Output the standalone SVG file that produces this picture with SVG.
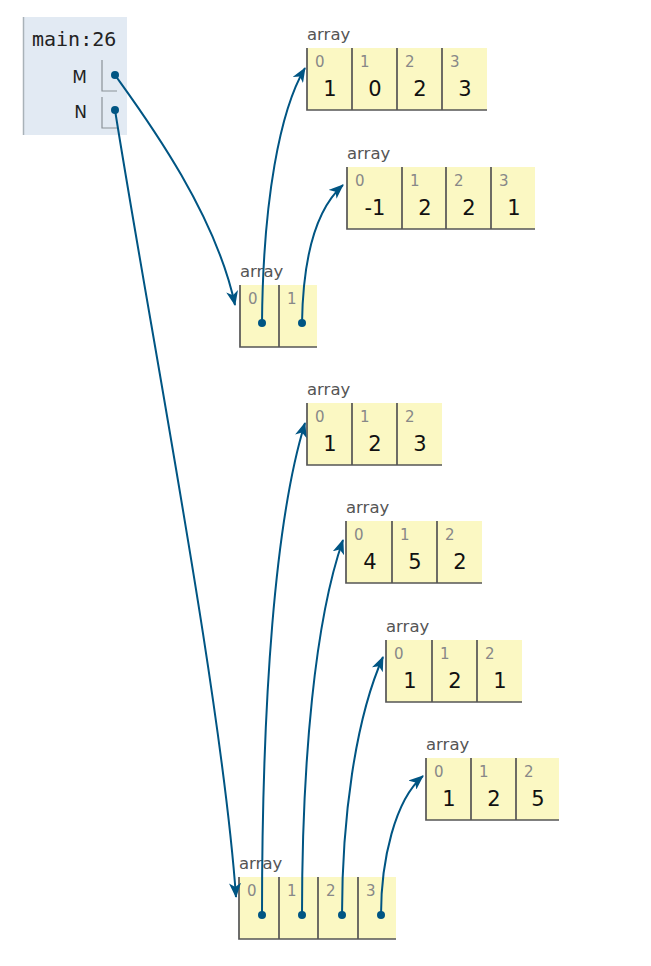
<svg xmlns="http://www.w3.org/2000/svg" width="651" height="966" viewBox="0 0 651 966">
<style>
.frame{fill:#e2eaf3}
.fborder{stroke:#a9b2b8;stroke-width:1.5;fill:none}
.vbox{stroke:#8a9198;stroke-width:1.2;fill:none}
.fname{font-family:"DejaVu Sans Mono",monospace;font-size:20px;fill:#222}
.var{font-family:"DejaVu Sans",sans-serif;font-size:17px;fill:#222;text-anchor:end}
.cell{fill:#fbf8c3}
.cb{stroke:#555;stroke-width:1.7;fill:none}
.lbl{font-family:"DejaVu Sans",sans-serif;font-size:16.5px;fill:#555}
.idx{font-family:"DejaVu Sans",sans-serif;font-size:15px;fill:#888}
.val{font-family:"DejaVu Sans",sans-serif;font-size:21px;fill:#111;text-anchor:middle}
.ptr{stroke:#005583;stroke-width:2;fill:none;marker-end:url(#ah)}
.dot{fill:#005583}
</style>
<defs>
<marker id="ah" viewBox="0 0 15 12" refX="14" refY="6" markerWidth="15" markerHeight="12" markerUnits="userSpaceOnUse" orient="auto">
<path d="M0,0 L15,6 L0,12 L4,6 Z" fill="#005583"/>
</marker>
</defs>
<rect width="651" height="966" fill="#ffffff"/>

<g id="frame-main">
<rect class="frame" x="23" y="17" width="104" height="118"/>
<line class="fborder" x1="23.5" y1="17" x2="23.5" y2="135"/>
<text class="fname" x="32" y="46">main:26</text>
<text class="var" x="87" y="83">M</text>
<path class="vbox" d="M102,60 V91 H117"/>
<text class="var" x="87" y="118">N</text>
<path class="vbox" d="M102,97 V128 H117"/>
</g>

<g id="array1">
<text class="lbl" x="307" y="40">array</text>
<rect class="cell" x="307" y="48" width="180" height="62"/>
<path class="cb" d="M307,48 V110 H487 M352,48 V110 M397,48 V110 M442,48 V110"/>
<text class="idx" x="315" y="67">0</text><text class="idx" x="360" y="67">1</text><text class="idx" x="405" y="67">2</text><text class="idx" x="450" y="67">3</text>
<text class="val" x="330" y="96">1</text><text class="val" x="375" y="96">0</text><text class="val" x="420" y="96">2</text><text class="val" x="465" y="96">3</text>
</g>

<g id="array2">
<text class="lbl" x="347" y="159">array</text>
<rect class="cell" x="347" y="167" width="188" height="62"/>
<path class="cb" d="M347,167 V229 H535 M402,167 V229 M446,167 V229 M491,167 V229"/>
<text class="idx" x="355" y="186">0</text><text class="idx" x="410" y="186">1</text><text class="idx" x="454" y="186">2</text><text class="idx" x="499" y="186">3</text>
<text class="val" x="375" y="215">-1</text><text class="val" x="425" y="215">2</text><text class="val" x="469" y="215">2</text><text class="val" x="514" y="215">1</text>
</g>

<g id="array3">
<text class="lbl" x="240" y="277">array</text>
<rect class="cell" x="240" y="285" width="77" height="62"/>
<path class="cb" d="M240,285 V347 H317 M279,285 V347"/>
<text class="idx" x="248" y="304">0</text><text class="idx" x="287" y="304">1</text>
</g>

<g id="array4">
<text class="lbl" x="307" y="395">array</text>
<rect class="cell" x="307" y="403" width="135" height="62"/>
<path class="cb" d="M307,403 V465 H442 M352,403 V465 M397,403 V465"/>
<text class="idx" x="315" y="422">0</text><text class="idx" x="360" y="422">1</text><text class="idx" x="405" y="422">2</text>
<text class="val" x="330" y="451">1</text><text class="val" x="375" y="451">2</text><text class="val" x="420" y="451">3</text>
</g>

<g id="array5">
<text class="lbl" x="346" y="513">array</text>
<rect class="cell" x="346" y="521" width="136" height="62"/>
<path class="cb" d="M346,521 V583 H482 M392,521 V583 M437,521 V583"/>
<text class="idx" x="354" y="540">0</text><text class="idx" x="400" y="540">1</text><text class="idx" x="445" y="540">2</text>
<text class="val" x="370" y="569">4</text><text class="val" x="415" y="569">5</text><text class="val" x="460" y="569">2</text>
</g>

<g id="array6">
<text class="lbl" x="386" y="632">array</text>
<rect class="cell" x="386" y="640" width="136" height="62"/>
<path class="cb" d="M386,640 V702 H522 M432,640 V702 M477,640 V702"/>
<text class="idx" x="394" y="659">0</text><text class="idx" x="440" y="659">1</text><text class="idx" x="485" y="659">2</text>
<text class="val" x="410" y="688">1</text><text class="val" x="455" y="688">2</text><text class="val" x="500" y="688">1</text>
</g>

<g id="array7">
<text class="lbl" x="426" y="750">array</text>
<rect class="cell" x="426" y="758" width="133" height="62"/>
<path class="cb" d="M426,758 V820 H559 M471,758 V820 M516,758 V820"/>
<text class="idx" x="434" y="777">0</text><text class="idx" x="479" y="777">1</text><text class="idx" x="524" y="777">2</text>
<text class="val" x="449" y="806">1</text><text class="val" x="494" y="806">2</text><text class="val" x="538" y="806">5</text>
</g>

<g id="array8">
<text class="lbl" x="239" y="869">array</text>
<rect class="cell" x="239" y="877" width="157" height="62"/>
<path class="cb" d="M239,877 V939 H396 M279,877 V939 M318,877 V939 M358,877 V939"/>
<text class="idx" x="247" y="896">0</text><text class="idx" x="287" y="896">1</text><text class="idx" x="326" y="896">2</text><text class="idx" x="366" y="896">3</text>
</g>

<g id="connectors">
<path class="ptr" d="M115,75 C140,110 215,210 235,305"/>
<path class="ptr" d="M115,110 C150,330 222,700 236,897"/>
<path class="ptr" d="M262,323 C263,200 280,110 305,68"/>
<path class="ptr" d="M302,323 C303,260 315,210 343,185"/>
<path class="ptr" d="M262,915 C262,700 275,520 305,423"/>
<path class="ptr" d="M302,915 C302,760 315,620 343,540"/>
<path class="ptr" d="M342,915 C342,820 355,720 383,657"/>
<path class="ptr" d="M381,915 C381,860 395,800 423,776"/>
<circle class="dot" cx="115" cy="75" r="4"/>
<circle class="dot" cx="115" cy="110" r="4"/>
<circle class="dot" cx="262" cy="323" r="4"/>
<circle class="dot" cx="302" cy="323" r="4"/>
<circle class="dot" cx="262" cy="915" r="4"/>
<circle class="dot" cx="302" cy="915" r="4"/>
<circle class="dot" cx="342" cy="915" r="4"/>
<circle class="dot" cx="381" cy="915" r="4"/>
</g>
</svg>
